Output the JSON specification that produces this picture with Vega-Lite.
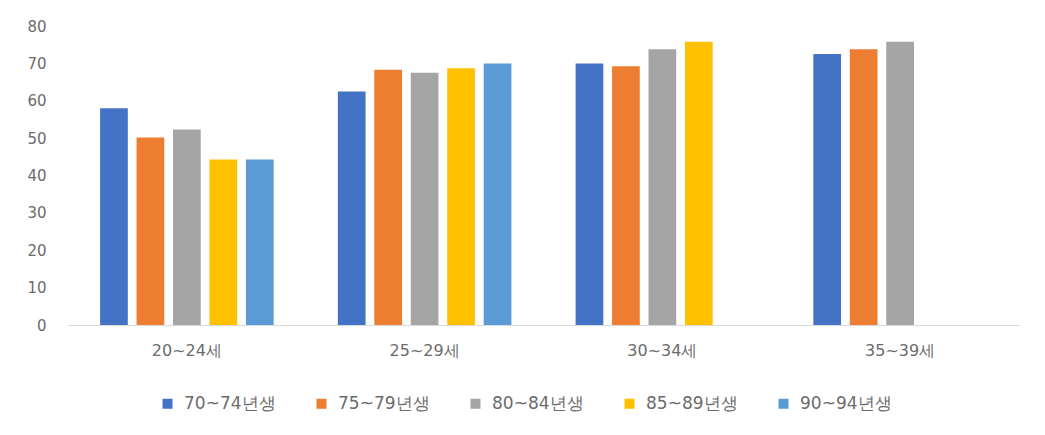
{
  "$schema": "https://vega.github.io/schema/vega-lite/v6.json",
  "autosize": {"type": "none"},
  "width": 951,
  "height": 299,
  "padding": {"left": 68, "top": 26, "right": 26, "bottom": 110},
  "background": "white",
  "data": {
    "values": [
      {"age": "20~24세", "cohort": "70~74년생", "value": 58.0},
      {"age": "20~24세", "cohort": "75~79년생", "value": 50.2},
      {"age": "20~24세", "cohort": "80~84년생", "value": 52.3},
      {"age": "20~24세", "cohort": "85~89년생", "value": 44.3},
      {"age": "20~24세", "cohort": "90~94년생", "value": 44.3},
      {"age": "25~29세", "cohort": "70~74년생", "value": 62.5},
      {"age": "25~29세", "cohort": "75~79년생", "value": 68.3},
      {"age": "25~29세", "cohort": "80~84년생", "value": 67.5},
      {"age": "25~29세", "cohort": "85~89년생", "value": 68.7},
      {"age": "25~29세", "cohort": "90~94년생", "value": 70.0},
      {"age": "30~34세", "cohort": "70~74년생", "value": 70.0},
      {"age": "30~34세", "cohort": "75~79년생", "value": 69.2},
      {"age": "30~34세", "cohort": "80~84년생", "value": 73.8},
      {"age": "30~34세", "cohort": "85~89년생", "value": 75.8},
      {"age": "35~39세", "cohort": "70~74년생", "value": 72.5},
      {"age": "35~39세", "cohort": "75~79년생", "value": 73.8},
      {"age": "35~39세", "cohort": "80~84년생", "value": 75.8}
    ]
  },
  "mark": {"type": "bar"},
  "encoding": {
    "x": {
      "field": "age",
      "type": "nominal",
      "sort": null,
      "scale": {"paddingInner": 0.27, "paddingOuter": 0.135},
      "axis": {
        "title": null,
        "labelAngle": 0,
        "ticks": false,
        "domainColor": "#D9D9D9",
        "domainWidth": 1,
        "labelPadding": 17,
        "labelFont": "DejaVu Sans",
        "labelFontSize": 16,
        "labelColor": "#6b6b6b"
      }
    },
    "xOffset": {
      "field": "cohort",
      "type": "nominal",
      "scale": {"paddingInner": 0.24, "paddingOuter": 0}
    },
    "y": {
      "field": "value",
      "type": "quantitative",
      "scale": {"domain": [0, 80], "nice": false},
      "axis": {
        "title": null,
        "values": [0, 10, 20, 30, 40, 50, 60, 70, 80],
        "domain": false,
        "ticks": false,
        "grid": false,
        "labelPadding": 22,
        "labelFont": "DejaVu Sans",
        "labelFontSize": 15,
        "labelColor": "#6b6b6b"
      }
    },
    "color": {
      "field": "cohort",
      "type": "nominal",
      "scale": {
        "domain": ["70~74년생", "75~79년생", "80~84년생", "85~89년생", "90~94년생"],
        "range": ["#4472C4", "#ED7D31", "#A5A5A5", "#FFC000", "#5B9BD5"]
      },
      "legend": {
        "title": null,
        "orient": "none",
        "legendX": 91,
        "legendY": 369,
        "direction": "horizontal",
        "columns": 5,
        "columnPadding": 37,
        "symbolType": "square",
        "symbolSize": 100,
        "symbolStrokeWidth": 0,
        "labelOffset": 8,
        "labelFont": "DejaVu Sans",
        "labelFontSize": 17,
        "labelColor": "#6b6b6b"
      }
    }
  },
  "config": {
    "view": {"stroke": null}
  }
}
